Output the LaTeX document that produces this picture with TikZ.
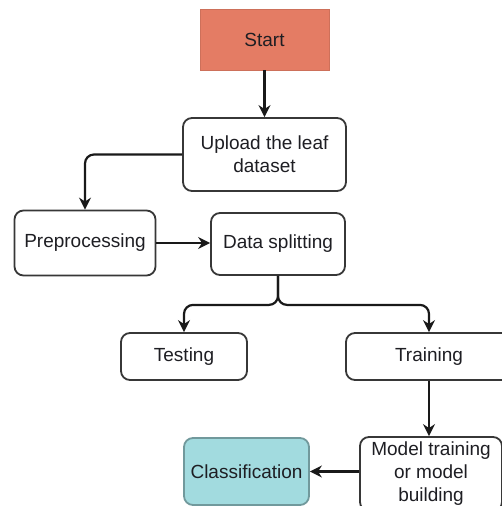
\documentclass[tikz,border=0pt]{standalone}
\usepackage{fontspec}
\setmainfont{Liberation Sans}
\usetikzlibrary{arrows.meta}
\definecolor{startfill}{RGB}{228,124,100}
\definecolor{classfill}{RGB}{162,219,223}
\definecolor{boxline}{RGB}{55,55,55}
\definecolor{txt}{RGB}{30,30,35}
\begin{document}
\begin{tikzpicture}[x=1pt,y=-1pt,
  every node/.style={font=\fontsize{19}{23}\selectfont, text=txt, align=center, inner sep=0pt},
  procbox/.style={draw=boxline, line width=1.8pt, rounded corners=9pt, fill=white},
  startbox/.style={fill=startfill, draw=startfill!90!black, line width=0.4pt},
  classbox/.style={procbox, fill=classfill, draw=classfill!70!black},
  arr/.style={draw=black!90, line width=2.2pt, -{Stealth[length=12pt,width=12pt]}, rounded corners=9pt}]
  \clip (0,0) rectangle (502,506);
  \fill[white] (0,0) rectangle (502,506);

  % process boxes
  \node[startbox, minimum width=129pt, minimum height=61pt] (start) at (264.5,39.5) {Start};
  \node[procbox, minimum width=163pt, minimum height=73pt] (upload) at (264.5,154.5) {Upload the leaf\\dataset};
  \node[procbox, minimum width=141pt, minimum height=65pt] (pre) at (85,243) {Preprocessing};
  \node[procbox, minimum width=134pt, minimum height=62pt] (split) at (278,244) {Data splitting};
  \node[procbox, minimum width=126pt, minimum height=47pt] (test) at (184,356.5) {Testing};
  \node[procbox, minimum width=166pt, minimum height=47pt] (train) at (429,356.5) {Training};
  \node[procbox, minimum width=142pt, minimum height=74pt] (model) at (431,474) {Model training\\or model\\building};
  \node[classbox, minimum width=125pt, minimum height=67pt] (cls) at (246.5,471.5) {Classification};

  % connectors
  \draw[arr] (start) -- (upload);
  \draw[arr] (upload.west) -| (pre.north);
  \draw[arr] (pre.east) -- (pre.east -| split.west);
  \draw[arr] (split.south) -- ++(0,29) -| (test.north);
  \draw[arr] (split.south) -- ++(0,29) -| (train.north);
  \draw[arr] (train.south) -- (train.south |- model.north);
  \draw[arr] (model.west |- cls.east) -- (cls.east);
\end{tikzpicture}
\end{document}
